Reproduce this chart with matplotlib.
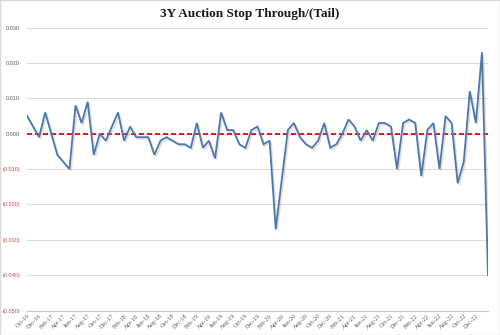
import matplotlib
matplotlib.use("Agg")
import matplotlib.pyplot as plt
import matplotlib.patheffects as pe
from matplotlib.patches import Rectangle
import numpy as np

# Stop-through (+) / tail (-) in percentage points, monthly 3Y auctions Oct-16 .. Feb-23
stop_through = [
    0.005, 0.002, -0.001, 0.006, 0.000, -0.006, -0.008, -0.010, 0.008, 0.003,
    0.009, -0.006, 0.000, -0.002, 0.002, 0.006, -0.002, 0.002, -0.001, -0.001,
    -0.001, -0.006, -0.002, -0.001, -0.002, -0.003, -0.003, -0.004, 0.003, -0.004,
    -0.002, -0.007, 0.006, 0.001, 0.001, -0.003, -0.004, 0.001, 0.002, -0.003,
    -0.002, -0.027, -0.013, 0.001, 0.003, -0.001, -0.003, -0.004, -0.002, 0.003,
    -0.004, -0.003, 0.000, 0.004, 0.002, -0.002, 0.001, -0.002, 0.003, 0.003,
    0.002, -0.010, 0.003, 0.004, 0.003, -0.012, 0.001, 0.003, -0.010, 0.005,
    0.003, -0.014, -0.008, 0.012, 0.003, 0.023, -0.040,
]

# Every other auction month gets a label
month_labels = [
    "Oct-16", "Dec-16", "Feb-17", "Apr-17", "Jun-17", "Aug-17", "Oct-17", "Dec-17",
    "Feb-18", "Apr-18", "Jun-18", "Aug-18", "Oct-18", "Dec-18", "Feb-19", "Apr-19",
    "Jun-19", "Aug-19", "Oct-19", "Dec-19", "Feb-20", "Apr-20", "Jun-20", "Aug-20",
    "Oct-20", "Dec-20", "Feb-21", "Apr-21", "Jun-21", "Aug-21", "Oct-21", "Dec-21",
    "Feb-22", "Apr-22", "Jun-22", "Aug-22", "Oct-22", "Dec-22",
]

y_ticks = [0.030, 0.020, 0.010, 0.000, -0.010, -0.020, -0.030, -0.040, -0.050]

x = np.arange(len(stop_through))

fig = plt.figure(figsize=(5.0, 3.35), dpi=100)
fig.patch.set_facecolor("white")
ax = fig.add_axes([0.054, 0.0731, 0.922, 0.8448])

ax.set_xlim(0, len(stop_through) - 1)
ax.set_ylim(-0.050, 0.030)

# horizontal gridlines
for yv in y_ticks:
    ax.axhline(yv, color="#dcdcdc", lw=0.8, zorder=0)

# zero reference
ax.axhline(0, color="#c00000", lw=1.2, dashes=(3, 1.8), zorder=2)

ax.plot(x, stop_through, color="#4d78ad", lw=1.3, zorder=3,
        solid_joinstyle="miter",
        path_effects=[pe.SimpleLineShadow(offset=(1.0, -1.2), shadow_color="#8c8c8c",
                                          alpha=0.28), pe.Normal()])

for s in ax.spines.values():
    s.set_visible(False)
ax.spines["bottom"].set_visible(True)
ax.spines["bottom"].set_color("#c8c8c8")
ax.spines["bottom"].set_linewidth(0.8)

ax.set_yticks(y_ticks)
ylabels = []
for yv in y_ticks:
    if yv < 0:
        ylabels.append(f"({abs(yv):.3f})")
    else:
        ylabels.append(f"{yv:.3f}")
ax.set_yticklabels(ylabels, fontsize=4, family="Liberation Sans")
for lbl, yv in zip(ax.get_yticklabels(), y_ticks):
    lbl.set_color("#c0504d" if yv < 0 else "#595959")
ax.tick_params(axis="y", length=0, pad=5)

ax.set_xticks(x[::2][:len(month_labels)])
ax.set_xticklabels(month_labels, rotation=45, ha="right", rotation_mode="anchor",
                   fontsize=4.5, family="Liberation Serif", color="#595959")
ax.tick_params(axis="x", length=0, pad=2)

fig.text(0.5, 0.958, "3Y Auction Stop Through/(Tail)", ha="center", va="center",
         fontsize=9.5, fontweight="bold", family="Liberation Serif", color="#1a1a1a")

fig.patches.append(Rectangle((0, 0), 1, 1, transform=fig.transFigure, fill=False,
                             edgecolor="#d9d9d9", lw=1.0))

fig.savefig("out.png", dpi=100, facecolor="white")
